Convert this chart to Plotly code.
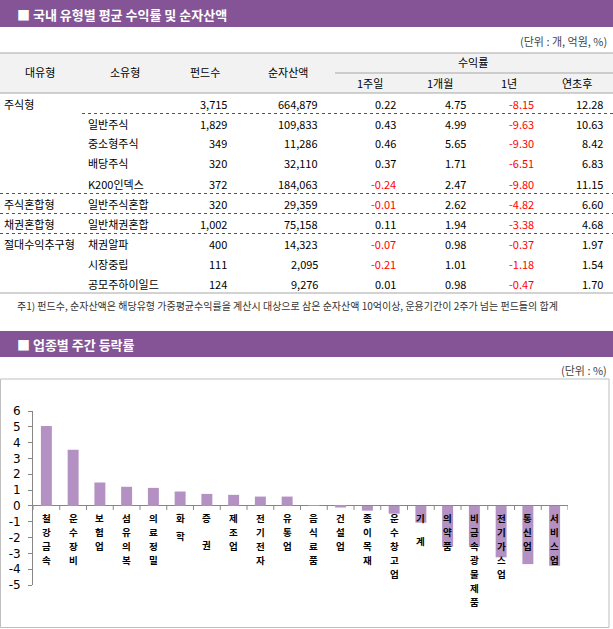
import plotly.graph_objects as go

# ---------------- data ----------------
table_major = ["주식형", "", "", "", "", "주식혼합형", "채권혼합형", "절대수익추구형", "", ""]
table_minor = ["", "일반주식", "중소형주식", "배당주식", "K200인덱스", "일반주식혼합", "일반채권혼합", "채권알파", "시장중립", "공모주하이일드"]
fund_counts = [3715, 1829, 349, 320, 372, 320, 1002, 400, 111, 124]
net_assets = [664879, 109833, 11286, 32110, 184063, 29359, 75158, 14323, 2095, 9276]
ret_1w = [0.22, 0.43, 0.46, 0.37, -0.24, -0.01, 0.11, -0.07, -0.21, 0.01]
ret_1m = [4.75, 4.99, 5.65, 1.71, 2.47, 2.62, 1.94, 0.98, 1.01, 0.98]
ret_1y = [-8.15, -9.63, -9.30, -6.51, -9.80, -4.82, -3.38, -0.37, -1.18, -0.47]
ret_ytd = [12.28, 10.63, 8.42, 6.83, 11.15, 6.60, 4.68, 1.97, 1.54, 1.70]

sectors = ["철강금속", "운수장비", "보험업", "섬유의복", "의료정밀", "화학", "증권", "제조업", "전기전자", "유통업",
           "음식료품", "건설업", "종이목재", "운수창고업", "기계", "의약품", "비금속광물제품", "전기가스업", "통신업", "서비스업"]
sector_labels = ["철강금속", "운수장비", "보험업", "섬유의복", "의료정밀", "화 학", "증   권", "제조업", "전기전자", "유통업",
                 "음식료품", "건설업", "종이목재", "운수창고업", "기  계", "의약품", "비금속광물제품", "전기가스업", "통신업", "서비스업"]
sector_returns = [5.05, 3.55, 1.48, 1.21, 1.14, 0.91, 0.76, 0.70, 0.59, 0.59,
                  0.01, -0.10, -0.30, -0.49, -1.06, -2.58, -2.58, -3.25, -3.68, -3.79]
y_ticks = [-5, -4, -3, -2, -1, 0, 1, 2, 3, 4, 5, 6]

# ---------------- layout helpers ----------------
W, H = 613, 629
L, R, T, B = 33, 45, 411, 44
PW, PH = W - L - R, H - T - B
FONT = "Noto Sans CJK KR"
PURPLE = "#845496"
GRAY = "#a6a6a6"


def X(px):
    return (px - L) / PW


def Y(py):
    return (H - B - py) / PH


annotations = []
shapes = []


def text(px, py, s, anchor="left", size=11, color="#000000", weight="normal"):
    annotations.append(dict(x=X(px), y=Y(py), xref="paper", yref="paper", text=s, showarrow=False,
                            xanchor=anchor, yanchor="middle",
                            font=dict(family=FONT, size=size, color=color, weight=weight)))


def rect(x0, y0, x1, y1, fill, line=None):
    shapes.append(dict(type="rect", xref="paper", yref="paper", x0=X(x0), x1=X(x1), y0=Y(y1), y1=Y(y0),
                       fillcolor=fill, line=dict(width=1 if line else 0, color=line or fill), layer="below"))


def hline(x0, x1, py, color=GRAY, dash="solid", width=1):
    shapes.append(dict(type="line", xref="paper", yref="paper", x0=X(x0), x1=X(x1), y0=Y(py), y1=Y(py),
                       line=dict(color=color, width=width, dash=dash)))


# ---------------- section 1: table ----------------
rect(0, 0, W, 27, PURPLE)
text(15, 14, "■ 국내 유형별 평균 수익률 및 순자산액", size=13, color="white", weight="bold")
text(609, 41, "(단위 : 개, 억원, %)", anchor="right", size=11, color="#444444")

rect(0, 53, W, 93, "#f2f2f2")
hline(0, W, 53)
hline(335, W, 73)
hline(0, W, 93)

for cx, s in [(40, "대유형"), (125, "소유형"), (205, "펀드수"), (288, "순자산액")]:
    text(cx, 72, s, anchor="center")
text(473, 62, "수익률", anchor="center")
for cx, s in [(370, "1주일"), (440, "1개월"), (509, "1년"), (577, "연초후")]:
    text(cx, 83, s, anchor="center")


def fmt(v):
    return f"{v:.2f}"


for i in range(len(table_minor)):
    cy = 103.5 + 20 * i
    if table_major[i]:
        text(2, cy, table_major[i])
    if table_minor[i]:
        text(86, cy, table_minor[i])
    text(229, cy, f"{fund_counts[i]:,}", anchor="right")
    text(320, cy, f"{net_assets[i]:,}", anchor="right")
    for rx, arr in [(398, ret_1w), (468, ret_1m), (536, ret_1y), (605, ret_ytd)]:
        v = arr[i]
        text(rx, cy, fmt(v), anchor="right", color="#ff0000" if v < 0 else "#000000")

hline(82, W, 113.5, color="#555555", dash="dot")
for k in (4, 5, 6):
    hline(0, W, 113.5 + 20 * k, color="#555555", dash="dot")
hline(0, W, 293)

text(15, 305, "주1) 펀드수, 순자산액은 해당유형 가중평균수익률을 계산시 대상으로 삼은 순자산액 10억이상, 운용기간이 2주가 넘는 펀드들의 합계",
     size=10, color="#333333")

# ---------------- section 2: bar chart ----------------
rect(0, 331, W, 357, PURPLE)
text(15, 344, "■ 업종별 주간 등락률", size=13, color="white", weight="bold")
text(609, 370, "(단위 : %)", anchor="right", size=11, color="#444444")
rect(0.5, 379, 609, 627.5, "rgba(0,0,0,0)", line="#bfbfbf")

fig = go.Figure(go.Bar(x=sectors, y=sector_returns, width=0.41,
                       marker=dict(color="#b391c3", line=dict(width=0))))

# category tick marks along the zero line
for i in range(len(sectors) + 1):
    shapes.append(dict(type="line", xref="x", yref="y", x0=i - 0.5, x1=i - 0.5,
                       ysizemode="pixel", yanchor=0, y0=0, y1=-4,
                       line=dict(color="#868686", width=1)))

# vertically stacked category labels just under the zero line (one glyph per annotation)
STEP, SPACE = 14.0, 4.5
for cat, lab in zip(sectors, sector_labels):
    off = 12.0
    for ch in lab:
        if ch == " ":
            off += SPACE
            continue
        annotations.append(dict(x=cat, y=0, xref="x", yref="y", text=ch, showarrow=False,
                                xanchor="center", yanchor="middle", yshift=-off, borderpad=0,
                                font=dict(family=FONT, size=9.5, color="#000000", weight="bold")))
        off += STEP

fig.update_layout(
    width=W, height=H,
    margin=dict(l=L, r=R, t=T, b=B, pad=0),
    paper_bgcolor="white", plot_bgcolor="white",
    showlegend=False,
    annotations=annotations,
    shapes=shapes,
    xaxis=dict(type="category", range=[-0.5, len(sectors) - 0.5], showticklabels=False, showline=False,
               showgrid=False, zeroline=False, ticks="", automargin=False, fixedrange=True),
    yaxis=dict(range=[-5, 6], tickvals=y_ticks, ticktext=[str(v) for v in y_ticks],
               showgrid=False, zeroline=True, zerolinecolor="#868686", zerolinewidth=1,
               showline=True, linecolor="#868686", linewidth=1,
               ticks="outside", ticklen=4, tickcolor="#868686", ticklabelstandoff=5,
               tickfont=dict(family="DejaVu Sans", size=12, color="#000000"),
               automargin=False, fixedrange=True),
)

fig.write_html("out.html", config={"displayModeBar": False},
               post_script="document.body.style.margin='0';document.body.style.overflow='hidden';")
